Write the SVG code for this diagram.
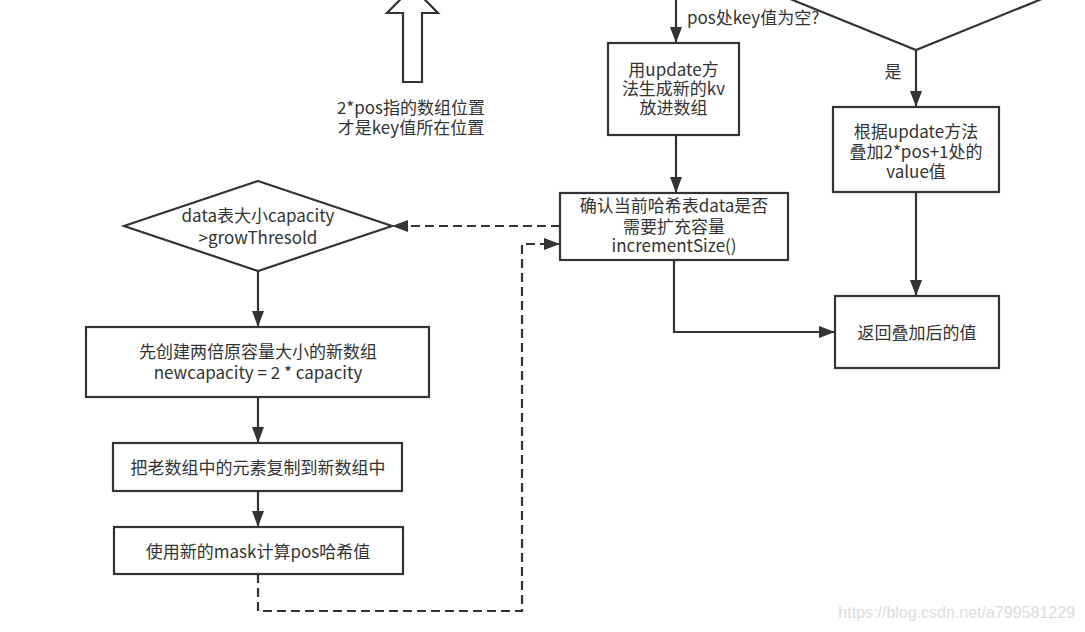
<svg xmlns="http://www.w3.org/2000/svg" width="1085" height="632" viewBox="0 0 1085 632">
<defs>
<marker id="arr" markerUnits="userSpaceOnUse" markerWidth="18" markerHeight="13" refX="16" refY="6" orient="auto">
<path d="M0,0 L16,6 L0,12 z" fill="#333"/>
</marker>
<style>
.box{fill:#fff;stroke:#333;stroke-width:2.2}
.t{font-family:"Noto Sans CJK SC","Noto Sans",sans-serif;font-size:17px;fill:#333;text-anchor:middle}
.lbl{font-family:"Noto Sans CJK SC","Noto Sans",sans-serif;font-size:17px;fill:#333}
.e{fill:none;stroke:#333;stroke-width:2.2}
.d{stroke-dasharray:9 5}
</style>
</defs>
<rect width="1085" height="632" fill="#fff"/>

<g id="note">
<polygon class="box" points="403,82 422,82 422,13 438,13 412.5,-13 387,13 403,13" stroke-width="2.5"/>
<text class="t" x="411" y="114">2*pos指的数组位置</text>
<text class="t" x="411" y="134">才是key值所在位置</text>
</g>

<g id="decision-top">
<polygon class="box" points="916,-70 1064,-10 916,50 768,-10"/>
</g>

<g id="n-update">
<rect class="box" x="608" y="43" width="131" height="92"/>
<text class="t" x="673.5" y="76">用update方</text>
<text class="t" x="673.5" y="95">法生成新的kv</text>
<text class="t" x="673.5" y="114">放进数组</text>
</g>

<g id="n-accum">
<rect class="box" x="833" y="107" width="166" height="85"/>
<text class="t" x="916" y="138">根据update方法</text>
<text class="t" x="916" y="158">叠加2*pos+1处的</text>
<text class="t" x="916" y="178">value值</text>
</g>

<g id="n-return">
<rect class="box" x="835" y="296" width="164" height="72"/>
<text class="t" x="917" y="339">返回叠加后的值</text>
</g>

<g id="n-check">
<rect class="box" x="560" y="193" width="228" height="67"/>
<text class="t" x="674" y="212">确认当前哈希表data是否</text>
<text class="t" x="674" y="233">需要扩充容量</text>
<text class="t" x="674" y="252">incrementSize()</text>
</g>

<g id="n-cap">
<polygon class="box" points="258,181 392,226 258,271 124,226"/>
<text class="t" x="258" y="222">data表大小capacity</text>
<text class="t" x="258" y="244">&gt;growThresold</text>
</g>

<g id="n-new">
<rect class="box" x="86" y="327" width="343" height="70"/>
<text class="t" x="258" y="358">先创建两倍原容量大小的新数组</text>
<text class="t" x="258" y="379">newcapacity = 2 * capacity</text>
</g>

<g id="n-copy">
<rect class="box" x="113" y="443" width="289" height="48"/>
<text class="t" x="258" y="474">把老数组中的元素复制到新数组中</text>
</g>

<g id="n-mask">
<rect class="box" x="114" y="527" width="289" height="47"/>
<text class="t" x="258" y="558">使用新的mask计算pos哈希值</text>
</g>

<g id="connectors">
<path class="e" d="M676,0 V43" marker-end="url(#arr)"/>
<text class="lbl" x="687" y="24">pos处key值为空?</text>
<path class="e" d="M916,50 V107" marker-end="url(#arr)"/>
<text class="lbl" x="893" y="78" text-anchor="middle">是</text>
<path class="e" d="M916,192 V296" marker-end="url(#arr)"/>
<path class="e" d="M676,135 V193" marker-end="url(#arr)"/>
<path class="e" d="M674,260 V332 H835" marker-end="url(#arr)"/>
<path class="e d" d="M560,226 H392" marker-end="url(#arr)"/>
<path class="e" d="M258,271 V327" marker-end="url(#arr)"/>
<path class="e" d="M258,397 V443" marker-end="url(#arr)"/>
<path class="e" d="M258,491 V527" marker-end="url(#arr)"/>
<path class="e d" d="M258,574 V611 H522 V244 H560" marker-end="url(#arr)"/>
</g>

<text x="1075" y="618" text-anchor="end" font-family="Liberation Sans, Arial, sans-serif" font-size="16" fill="#dcdcdc">https://blog.csdn.net/a799581229</text>
</svg>
